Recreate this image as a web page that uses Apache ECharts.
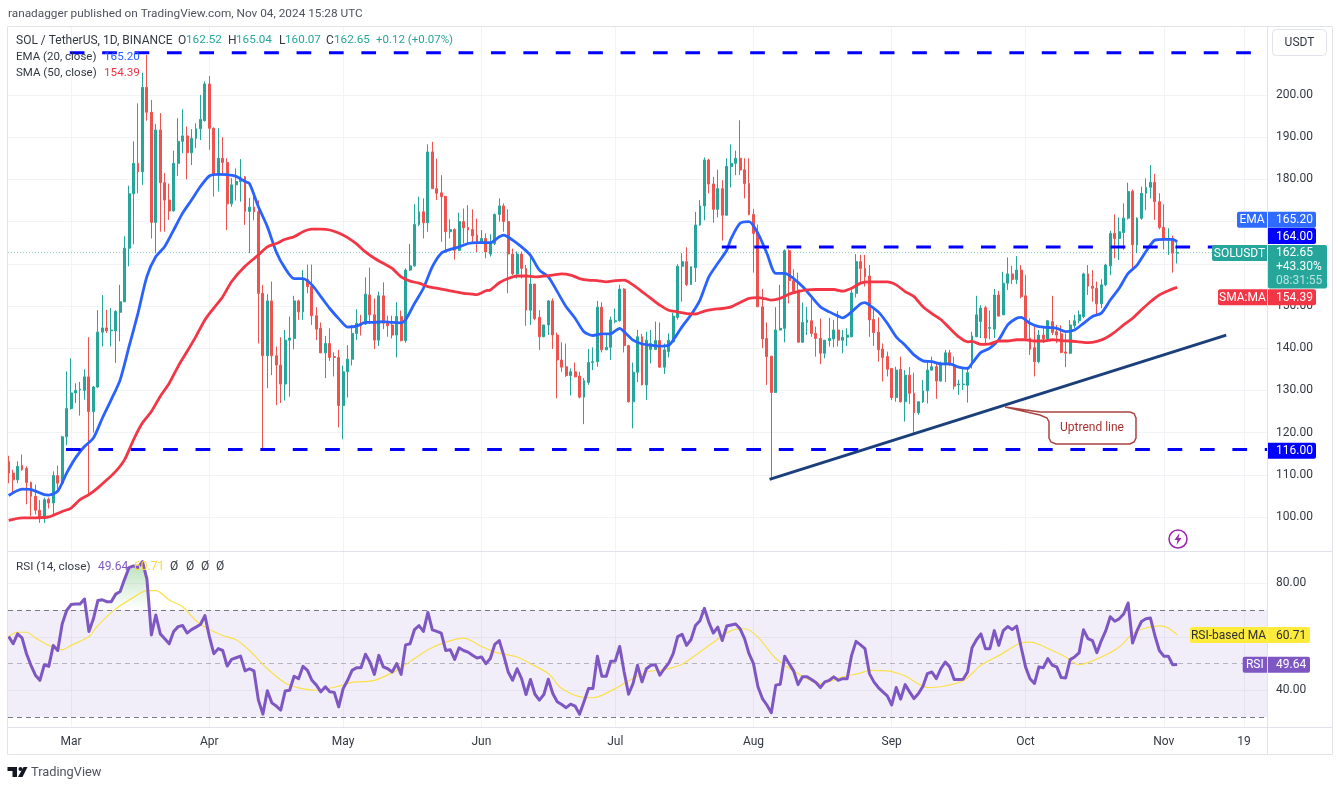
<!DOCTYPE html>
<html>
<head>
<meta charset="utf-8">
<script src="https://cdn.jsdelivr.net/npm/echarts@6/dist/echarts.min.js"></script>
<style>
  html, body { margin: 0; padding: 0; background: #fff; }
  #main { width: 1338px; height: 786px; }
</style>
</head>
<body>
<div id="main"></div>
<script>
// daily candles, first candle is 16 Feb 2024
var firstDay = Date.UTC(2024, 1, 16);
var DAY = 86400000;

var opens = [
  113.2,110.4,108.8,112.2,111.5,108.2,104.9,101.6,99.6,104.2,
  103.3,109.8,108.0,119.0,125.7,129.4,130.1,130.0,133.2,125.0,
  130.8,143.8,144.8,144.1,144.1,148.5,151.0,163.7,176.6,183.8,
  181.8,201.8,195.9,169.8,191.7,179.2,175.1,172.5,183.8,189.0,
  190.3,186.3,189.7,192.0,193.9,202.6,192.1,181.0,185.0,184.0,
  174.2,178.7,179.5,180.6,172.4,173.4,172.3,153.0,138.2,151.2,
  138.2,136.0,131.5,141.9,142.3,151.2,148.6,156.3,154.6,147.7,
  144.7,138.9,141.1,138.0,137.8,126.4,134.4,137.4,143.5,145.9,
  145.7,152.6,147.9,141.9,152.4,145.9,145.5,143.1,147.5,141.8,
  158.5,159.5,169.3,172.3,169.7,186.5,177.8,176.8,176.0,167.6,
  168.1,163.2,170.0,168.6,168.1,166.8,165.2,166.0,162.3,164.8,
  171.7,173.7,170.0,162.3,157.6,162.3,158.9,149.0,155.2,147.3,
  142.7,145.5,151.2,143.1,137.2,135.6,133.5,134.4,133.4,128.4,
  131.9,136.6,136.8,149.7,139.6,140.2,146.3,146.5,154.0,140.6,
  127.3,134.3,142.7,131.3,139.7,139.7,141.8,135.5,139.2,141.5,
  147.3,159.4,160.5,155.1,159.1,169.2,173.7,184.6,178.9,172.9,
  177.8,171.5,183.0,183.8,185.0,182.3,179.0,171.7,167.2,149.8,
  142.3,138.1,129.5,144.3,144.7,163.1,156.0,153.8,141.4,146.1,
  146.5,143.5,142.3,138.8,141.8,142.2,144.3,141.9,142.6,142.7,
  153.0,160.5,158.9,157.1,146.8,143.8,139.8,138.0,135.2,128.3,
  135.0,127.3,133.6,129.3,124.7,127.3,129.9,134.8,135.6,132.2,
  136.0,138.9,136.0,131.3,131.4,131.2,136.3,142.7,146.3,149.6,
  144.7,144.5,152.6,147.9,155.4,157.6,156.3,158.5,152.4,142.4,
  140.1,136.8,143.1,142.2,146.3,143.9,143.4,139.1,138.8,145.4,
  146.5,147.5,157.6,154.7,154.2,150.5,155.0,159.5,167.2,166.0,
  167.4,170.8,177.2,164.5,170.8,176.7,178.1,179.3,174.7,168.6,
  165.6,166.0,162.52
];
var closes = [
  110.4,108.8,112.0,111.2,108.2,104.9,101.6,99.6,104.1,103.3,
  109.8,108.0,119.0,125.7,129.4,130.0,130.3,133.2,125.0,130.8,
  143.8,144.8,144.1,144.3,148.7,151.0,163.7,176.6,183.8,181.8,
  201.8,195.9,169.8,191.7,179.2,175.1,172.5,183.8,189.0,190.3,
  186.3,189.7,192.0,194.2,202.6,192.1,181.0,185.0,184.0,174.2,
  178.7,179.5,180.3,172.4,173.4,172.3,153.0,138.2,151.2,138.2,
  136.0,131.5,141.9,142.4,151.2,148.6,156.3,154.6,147.7,144.5,
  138.9,141.1,137.8,137.8,126.4,134.4,137.4,143.5,145.9,145.3,
  152.8,147.9,141.9,152.4,145.9,145.3,143.1,147.5,141.8,158.5,
  159.5,169.3,172.3,169.7,186.5,177.8,176.7,175.9,167.6,168.1,
  163.2,170.0,168.5,168.0,166.6,165.2,166.0,162.8,165.0,171.7,
  173.7,170.0,162.3,157.6,162.3,158.9,149.0,155.2,147.0,142.7,
  145.5,151.2,143.1,137.2,135.5,133.5,134.4,133.2,128.4,132.3,
  136.6,136.8,149.7,139.6,140.2,146.7,146.5,154.0,140.6,127.3,
  134.3,142.7,131.3,141.9,141.1,141.8,135.5,139.6,141.9,147.6,
  159.4,160.5,155.1,159.3,169.2,173.7,184.6,178.9,172.9,177.8,
  171.5,183.1,183.8,185.0,182.2,179.0,171.7,167.2,149.8,142.2,
  138.0,129.5,144.3,144.7,163.1,156.0,153.5,141.4,146.1,146.7,
  143.5,142.3,138.8,141.9,142.3,144.3,141.9,142.6,143.1,153.1,
  160.5,158.9,156.9,146.7,143.7,139.6,137.8,135.0,128.3,134.8,
  127.3,133.6,129.3,124.7,127.3,129.9,134.8,135.6,132.2,136.4,
  138.9,136.0,131.0,131.5,131.5,134.2,142.9,147.9,149.5,142.4,
  144.9,152.6,147.6,155.4,157.6,156.3,158.5,152.2,142.4,139.7,
  136.8,143.1,142.2,146.5,143.7,143.1,139.0,138.8,145.5,146.5,
  147.9,157.6,154.7,154.2,150.5,155.0,159.7,167.2,166.0,167.6,
  170.8,177.1,164.5,170.8,176.7,178.1,179.3,174.7,168.6,165.6,
  166.0,162.52,162.65
];
var highs = [
  114.5,111.2,113.2,114.8,112.0,108.4,107.7,104.0,104.6,104.6,
  110.8,112.2,119.2,134.5,137.6,131.7,132.0,135.0,142.6,131.0,
  149.0,152.6,149.1,149.5,149.0,155.0,166.5,178.5,189.0,198.0,
  205.3,209.5,198.8,193.1,195.7,181.5,179.0,186.8,194.5,196.6,
  192.5,191.9,193.3,200.0,203.2,204.5,192.3,192.1,190.0,185.0,
  180.3,182.6,184.8,180.8,175.6,176.3,175.0,155.0,152.8,155.8,
  140.4,142.6,144.3,147.5,152.4,151.5,158.5,159.8,159.8,149.7,
  146.1,142.9,144.7,139.0,139.6,135.9,140.7,145.5,149.2,147.9,
  156.8,159.1,151.8,153.4,155.6,147.7,147.7,150.9,148.9,158.9,
  164.7,174.1,175.9,175.5,188.3,188.9,184.9,181.0,176.0,170.5,
  168.4,172.1,173.1,173.9,172.9,170.7,168.0,167.2,167.0,171.9,
  175.5,174.3,172.9,163.6,162.9,162.9,159.7,161.7,155.2,149.0,
  145.5,151.4,151.8,143.7,141.4,141.1,135.2,136.6,134.4,132.9,
  139.8,140.2,151.2,150.9,143.1,147.5,149.4,155.0,154.2,140.8,
  136.6,144.3,143.4,143.9,144.3,146.3,146.1,141.1,143.5,148.4,
  159.9,162.5,163.9,159.3,172.3,175.1,185.2,184.9,180.6,182.3,
  179.8,185.0,188.3,186.8,194.0,185.0,185.0,173.0,169.3,154.0,
  146.1,138.2,149.7,155.0,163.4,163.4,158.7,157.9,150.8,149.8,
  152.2,145.1,147.0,141.9,147.2,146.7,148.8,144.3,144.7,153.8,
  162.3,162.1,162.1,159.7,149.8,147.3,141.1,139.2,135.2,135.6,
  138.0,134.8,135.5,134.2,127.3,132.5,136.8,138.0,136.4,136.8,
  139.6,139.6,138.0,132.5,135.2,135.6,143.9,152.4,150.2,150.0,
  148.9,154.0,153.6,158.1,161.5,159.5,161.8,159.7,157.3,147.1,
  145.1,144.3,145.1,146.7,152.4,145.5,145.4,143.5,146.7,147.9,
  148.9,157.9,159.7,158.5,155.8,156.3,160.0,167.8,171.7,171.0,
  174.3,179.2,177.6,171.0,178.3,180.2,183.4,181.3,176.7,174.1,
  168.4,166.7,165.04
];
var lows = [
  108.0,105.7,108.0,111.0,103.0,100.2,100.6,98.6,98.6,102.0,
  100.6,106.5,107.5,117.0,125.4,127.0,124.0,127.8,105.3,120.0,
  130.6,140.4,143.6,140.4,136.5,141.6,150.9,159.4,164.6,176.7,
  178.7,193.9,166.0,162.5,167.6,167.6,170.4,172.4,180.8,186.2,
  180.0,183.4,187.4,189.3,193.7,187.0,175.9,177.1,181.0,168.0,
  173.5,175.0,174.7,169.2,162.5,170.3,141.1,116.0,130.5,133.6,
  126.5,127.0,127.6,128.5,139.7,146.7,146.7,153.0,145.5,141.9,
  138.8,132.9,137.0,133.3,121.2,118.4,128.3,135.9,141.9,143.0,
  145.5,145.7,139.8,140.5,144.5,142.7,142.3,137.8,141.6,141.3,
  158.3,159.3,168.9,166.0,167.6,177.7,175.1,165.2,162.6,166.0,
  161.0,163.0,164.8,164.7,164.7,162.8,164.7,161.3,161.7,164.4,
  170.0,167.6,153.0,157.3,156.5,156.5,145.3,145.5,146.6,139.6,
  142.6,143.1,139.8,128.1,134.4,133.2,128.8,133.1,128.1,122.0,
  131.3,134.8,135.6,139.0,139.6,137.2,145.9,146.3,139.0,127.1,
  121.0,132.0,131.2,127.7,136.4,139.6,135.4,133.9,137.8,141.4,
  146.8,151.0,154.7,155.0,155.7,169.0,170.3,176.7,169.7,171.0,
  165.5,171.5,178.1,181.0,181.0,175.5,171.5,157.9,149.8,140.0,
  131.3,109.0,129.5,144.2,141.4,150.6,153.0,141.4,141.3,143.1,
  142.7,138.0,136.2,137.6,140.4,140.2,140.4,138.8,140.5,142.6,
  152.0,155.4,154.6,142.7,140.5,136.8,132.1,133.3,127.7,127.3,
  127.1,122.6,126.8,119.8,124.2,127.0,126.9,134.7,128.0,132.1,
  132.0,135.8,130.2,128.9,130.1,127.1,135.2,142.6,142.4,141.2,
  142.1,142.4,147.5,147.9,153.8,155.2,155.2,151.8,142.0,138.4,
  133.3,136.4,141.2,141.6,143.1,141.2,138.8,135.5,138.6,144.7,
  145.9,147.1,152.6,151.0,147.9,149.5,154.7,157.3,161.3,160.9,
  163.3,170.5,158.9,162.5,170.4,172.7,175.5,170.4,168.2,163.4,
  162.1,157.9,160.07
];

// moving averages, read every couple of days (day number counted from firstDay)
var emaDays = [0,3,5,8,9,11,13,15,17,19,21,23,25,27,29,31,33,35,37,39,41,43,45,47,49,51,53,54,56,58,60,62,64,66,68,70,72,74,76,78,80,82,84,86,88,89,91,93,95,97,99,101,103,105,107,108,110,111,113,115,117,119,121,123,125,127,129,131,133,135,136,137,138,140,142,144,146,148,149,151,153,155,157,159,161,162,164,166,168,170,172,174,176,178,180,182,184,186,187,189,191,192,193,195,197,199,201,203,205,207,209,211,213,215,216,218,220,222,224,226,227,229,231,233,235,237,239,241,243,245,247,249,251,253,255,257,259,261,262];
var emaValues = [105.1,106.6,106.5,105.3,105.2,106.1,110.4,114,116.7,118.7,123.4,127.8,132.5,140.4,148.3,157,161.7,164.1,168,172,175.1,178.3,180.8,181.2,181.1,180.7,179.5,179,173.5,168.8,162.8,158.9,156.5,156.5,155,152.2,149.4,147,145,145.2,146.1,146.1,146.3,146.1,146,146.7,150.6,154.2,159.3,162.5,163.4,164,164.8,165,165,165,166.4,166.8,165.6,164,162,158.5,156.9,153.4,149.8,147.1,143.9,143,143.4,143.4,144.1,144.7,143.9,141.9,141,140.7,140.5,140.7,141.9,145.1,147.9,151.4,156.9,160.1,163.2,166,169.6,170,167.2,162.5,157.7,157.7,156.5,154.6,152.2,149.8,148.6,147.6,147.2,148.6,150.5,150.8,150.2,148.6,145.9,142.7,140.7,138.4,137,136.8,136.3,136.3,135.5,135.2,136.4,139,140,142,145.5,147.1,147.3,145.9,145.1,144.9,144.7,143.9,144.3,145.9,147.5,148.3,151.4,154.2,157.7,159.7,162.9,165.6,165.8,165.8,165.2];
var smaDays = [0,3,6,9,12,14,16,18,20,22,24,26,28,30,32,34,36,38,40,42,44,46,48,50,53,56,58,60,62,64,66,68,70,72,74,76,78,80,82,84,86,88,90,92,94,96,98,100,102,104,105,107,108,110,112,114,116,118,120,122,124,126,128,130,132,134,136,138,140,142,144,146,148,150,152,154,156,158,160,162,164,166,168,170,171,173,175,177,179,181,183,185,187,189,191,193,195,197,199,201,203,205,207,209,211,213,215,216,218,220,222,224,226,228,230,232,234,236,238,240,242,244,246,248,250,252,254,256,258,260,262];
var smaValues = [99.2,99.8,99.8,100,101.3,102.1,104.1,105.3,106.9,108.8,110.8,113.6,118.3,122.3,125,128.6,131.7,135.7,139.2,142.8,146.7,149.5,152.2,155.8,159.4,162.1,164,164.8,165.8,166.4,167.6,168.2,168.2,168,167.3,166.2,164.7,162.8,161.3,160.1,158.9,156.9,155.9,155.4,154.6,154.2,153.8,153.4,153,152.8,152.7,153.6,153.8,155.5,156.5,157.1,157.1,156.9,157.1,157.3,157.6,157.3,156.5,156.1,156,155.7,156,156.1,155,153.4,151.8,150.2,149,148.6,148.2,148.1,148.8,149.2,149.4,149.8,150.8,151.8,152,151.6,151.4,151.8,152.8,153.4,153.8,153.9,153.9,153.9,153.5,154.2,155.4,155.7,155.7,155.7,155,153.4,152.2,149.8,148.2,146.8,144.7,142.7,141.5,141.6,140.9,141,141.7,141.7,142,142,141.7,141.7,142,141.8,141.7,141.5,141.3,141.6,142.4,143.8,145.5,147.1,149.1,151,152.6,153.6,154.39];

// RSI, one value per candle
var rsiValues = [
  60.1,57.4,61.1,59.6,53.7,49.4,45.7,43.8,49.6,49,
  56.8,54.9,64.8,69.8,72,72.2,72.2,74.1,62,66.7,
  73.5,73.8,73.1,73.1,75.9,76.9,81.5,85.8,86.4,85.8,
  88,81.5,60.7,68.1,61.1,59.3,57.4,62,63.8,64.2,
  61.4,62.7,63.6,64.6,67.9,60.1,53.7,55.6,54.9,49.1,
  51.6,52.2,52.8,47.3,48.1,47.3,36.4,31.2,39.9,35.4,
  34.2,32.7,39.8,40.1,45.3,44.4,49,47.5,43.8,42,
  39.5,41.4,39.5,39.3,33.9,40.7,43.8,47.5,48.5,48.5,
  53.5,50.6,46,53.1,48.8,48.1,46.9,50,46,57,
  57.4,62.7,64.2,62,69.1,62.6,62,61.4,54.9,55.2,
  51.6,55.9,54.9,54.3,53.1,52.1,52.5,50,51.9,57.2,
  58.6,53.1,46.9,43.8,48.1,44.4,38.5,44.1,38.6,36.4,
  38.5,44.2,38.9,35.8,34.8,33.6,34.9,34.2,31.2,35.8,
  40.7,40.7,52.8,45.3,45.3,50.9,51,56.4,46.9,38.6,
  42.6,49.4,43.2,48.1,49.4,49.6,45.7,48.1,50.2,53.7,
  60.1,60.9,56.8,59,64.2,66,70.6,65.4,61.4,63.6,
  58.6,64,64.4,64.8,63,59.3,53.7,50,41.4,37,
  34.6,31.7,42,42.3,52.8,50,47.3,42.2,45.1,45.1,
  44.1,43,41.1,43.2,43.8,45.1,43.8,44.4,44.4,53.1,
  58.3,57,55.6,46.3,43.2,41.1,39.5,38,34.6,41.1,
  36.8,42.2,39.5,37,38.9,41.6,46.3,46.9,44.4,48.1,
  50.6,48.8,44.1,44.1,44.2,46.9,55.9,58.9,61.1,55.6,
  55.6,62.3,56.8,62.3,63.8,62.7,64,56.2,48.8,44.4,
  42.6,48.8,48.5,51.9,49.4,48.8,44.8,44.7,51.5,52.5,
  54,62.6,59.3,58.6,54.1,58.6,62.3,67.5,65.8,66.7,
  68.5,72.6,57.7,62.3,65.7,66.7,67,60.5,54.9,52.8,
  52.8,49.6,49.64
];
var rsiMaDays = [0,2,4,6,9,12,14,18,20,24,28,31,33,36,39,42,45,48,51,54,58,62,65,69,74,77,82,87,91,94,98,102,106,109,114,117,121,124,129,131,136,139,143,147,151,157,162,165,168,172,177,182,187,191,193,197,201,206,209,214,218,222,227,229,234,237,240,245,249,252,255,258,260,262];
var rsiMaValues = [60.1,61.7,61.7,59.6,56.8,55.2,56.8,60.1,64.2,70.4,74.7,77.2,77.2,73.7,71.2,66,62.7,60.5,58.9,54.9,48.1,42.8,41,40.1,41.6,43,43.8,47.5,51.9,55.2,58,59.5,56.4,54.3,52.5,50,46.3,40.7,37.4,37.3,40.7,43.6,46.9,47.8,49.8,56.8,62.3,63,59.9,51.9,46.3,42.6,45.1,46.5,47.5,47.3,45.4,41.1,41.4,43.6,49.4,53,57.7,58,54.9,52.5,49.6,52.5,56.2,61.1,63.3,64.1,63.3,60.71];

// drawn levels: value, first day of the line
var resistanceTop = 210;
var resistanceTopFrom = 13.7;
var resistanceMid = 164;
var resistanceMidFrom = 159.9;
var supportLow = 116;
var supportLowFrom = 12.85;
var trendDays = [170.6, 273];
var trendValues = [108.9, 143.1];

var monthNames = { '2024-03-01': 'Mar', '2024-04-01': 'Apr', '2024-05-01': 'May', '2024-06-01': 'Jun', '2024-07-01': 'Jul', '2024-08-01': 'Aug', '2024-09-01': 'Sep', '2024-10-01': 'Oct', '2024-11-01': 'Nov', '2024-11-19': '19' };
var priceTicks = [100,110,120,130,140,150,160,170,180,190,200];
var rsiTicks = [80, 40];
var rsiGrid = [80, 60, 40];

var dayToMs = function (d) { return firstDay + d * DAY; };
var pairs = function (days, vals) { return days.map(function (d, i) { return [dayToMs(d), vals[i]]; }); };

var xMin = dayToMs(-0.148);
var xMax = dayToMs(282.14);
var timeTicks = Object.keys(monthNames).map(function (k) { return Date.parse(k + 'T00:00:00Z'); });

var candleData = opens.map(function (o, i) { return [dayToMs(i), o, closes[i], lows[i], highs[i]]; });
var lastClose = closes[closes.length - 1];

const FONT = 'Roboto, "Liberation Sans", sans-serif';
const TEXT = '#333842';
const UP = '#26a69a';
const DOWN = '#ef5350';
const EMA_COL = '#2962ff';
const SMA_COL = '#f23645';
const RSI_COL = '#7e57c2';
const GRID_COL = '#f2f3f7';
const LEVEL = '#0000ff';

// plain value axis holding milliseconds, the time axis breaks on customValues
function timeAxis(gridIndex, showLabel) {
  return {
    type: 'value', gridIndex: gridIndex, min: xMin, max: xMax, scale: true,
    axisLine: { show: false },
    axisTick: { show: false, customValues: timeTicks },
    splitLine: { show: true, lineStyle: { color: GRID_COL, width: 1 } },
    axisLabel: {
      show: showLabel, customValues: timeTicks, margin: 9, color: TEXT,
      fontFamily: FONT, fontSize: 12, hideOverlap: false,
      formatter: function (v) { return monthNames[new Date(v).toISOString().slice(0, 10)] || ''; }
    }
  };
}
function valueAxis(gridIndex, min, max, labels, lines) {
  return {
    type: 'value', gridIndex: gridIndex, position: 'right', min: min, max: max, scale: true,
    axisLine: { show: false },
    axisTick: { show: false, customValues: lines },
    splitLine: { show: true, lineStyle: { color: GRID_COL, width: 1 } },
    axisLabel: {
      customValues: labels, inside: false, margin: 9, color: TEXT, fontFamily: FONT, fontSize: 12,
      padding: [3, 0, 0, 0],
      formatter: function (v) { return v.toFixed(2); }
    }
  };
}
function levelLine(from, value) {
  return {
    type: 'line', xAxisIndex: 0, yAxisIndex: 0, showSymbol: false, silent: true, z: 6,
    data: [[dayToMs(from), value], [xMax, value]],
    lineStyle: { color: LEVEL, width: 3, type: [14.7, 17.7] }
  };
}

// texts, tags and frame around the plot
var chrome = [];
function txt(x, y, s, color, opts) {
  opts = opts || {};
  chrome.push({
    type: 'text', x: x, y: y + 1, z: opts.z || 50, silent: true,
    style: {
      text: s, fill: color, font: (opts.weight || 'normal') + ' ' + (opts.size || 12) + 'px ' + FONT,
      verticalAlign: 'middle', align: opts.align || 'left'
    }
  });
}
function box(x, y, w, h, fill, r) {
  chrome.push({ type: 'rect', z: 40, silent: true, shape: { x: x, y: y, width: w, height: h, r: r || 0 }, style: { fill: fill } });
}
function hline(x1, y1, x2, y2) {
  chrome.push({ type: 'line', z: 30, silent: true, shape: { x1: x1, y1: y1, x2: x2, y2: y2 }, style: { stroke: '#e0e3eb', lineWidth: 1 } });
}
function tag(y, h, leftX, rightX, color, leftText, rightText, textColor) {
  if (leftText) {
    box(leftX, y, 1267 - leftX, h, color, [2, 0, 0, 2]);
    txt((leftX + 1267) / 2, y + h / 2 - 0.5, leftText, textColor, { align: 'center' });
  }
  box(1268, y, rightX - 1268, h, color, [0, 2, 2, 0]);
  txt(1276, y + h / 2 - 0.5, rightText, textColor);
}

// frame
hline(7.5, 26.5, 1332.5, 26.5);
hline(7.5, 26.5, 7.5, 754.5);
hline(1332.5, 26.5, 1332.5, 754.5);
hline(7.5, 754.5, 1332.5, 754.5);
hline(7.5, 551.5, 1332.5, 551.5);
hline(7.5, 727.5, 1332.5, 727.5);
hline(1267.5, 26.5, 1267.5, 754.5);

txt(8, 13.5, 'ranadagger published on TradingView.com, Nov 04, 2024 15:28 UTC', '#50535e', { size: 11.8 });

txt(16, 39.5, 'SOL / TetherUS, 1D, BINANCE', TEXT);
txt(178, 39.5, 'O', TEXT); txt(186, 39.5, '162.52', UP, { size: 11.7 });
txt(228, 39.5, 'H', TEXT); txt(236, 39.5, '165.04', UP, { size: 11.7 });
txt(279, 39.5, 'L', TEXT); txt(285, 39.5, '160.07', UP, { size: 11.7 });
txt(326, 39.5, 'C', TEXT); txt(334, 39.5, '162.65', UP, { size: 11.7 });
txt(376, 39.5, '+0.12 (+0.07%)', UP, { size: 11.5 });
txt(16, 56.5, 'EMA (20, close)', TEXT, { size: 11.5 }); txt(104, 56.5, '165.20', EMA_COL, { size: 11.7 });
txt(16, 72.5, 'SMA (50, close)', TEXT, { size: 11.5 }); txt(104, 72.5, '154.39', SMA_COL, { size: 11.7 });

txt(16, 566, 'RSI (14, close)', TEXT, { size: 11.7 });
txt(98, 566, '49.64', RSI_COL);
txt(134, 566, '60.71', '#fdd835');
txt(170, 566, 'Ø', TEXT); txt(186, 566, 'Ø', TEXT); txt(201, 566, 'Ø', TEXT); txt(216, 566, 'Ø', TEXT);

// USDT button
chrome.push({ type: 'rect', z: 30, silent: true, shape: { x: 1272.5, y: 29.5, width: 54, height: 26, r: 4 }, style: { fill: '#fff', stroke: '#e0e3eb', lineWidth: 1 } });
txt(1299.5, 42, 'USDT', TEXT, { align: 'center' });

// price tags on the axis
tag(211.7, 16, 1237, 1316, '#2f6bff', 'EMA', '165.20', '#fff');
tag(228, 16, 1268, 1316, LEVEL, '', '164.00', '#fff');
box(1212, 245, 55, 16, UP, [2, 0, 0, 2]);
txt(1239.5, 252.5, 'SOLUSDT', '#fff', { align: 'center' });
box(1268, 245, 59, 43.5, UP, [0, 2, 2, 2]);
txt(1276, 252, '162.65', '#fff');
txt(1276, 266, '+43.30%', '#fff');
txt(1276, 280, '08:31:55', '#b9e3df');
tag(289.3, 16, 1218, 1316, SMA_COL, 'SMA:MA', '154.39', '#fff');
tag(442.7, 16, 1268, 1316, LEVEL, '', '116.00', '#fff');
tag(627, 16, 1190, 1310, '#ffeb3b', 'RSI-based MA', '60.71', '#2a2e39');
tag(656.7, 16, 1242.7, 1310, RSI_COL, 'RSI', '49.64', '#fff');

// callout for the trend line
chrome.push({
  type: 'polygon', z: 20, silent: true,
  shape: { points: [[1005, 407], [1040, 412], [1130, 412], [1134, 413.5], [1136, 418], [1136, 438], [1134, 442], [1130, 444], [1056, 444], [1051, 442], [1049, 438], [1049, 422], [1047, 418], [1040, 415]] },
  style: { fill: '#fff', stroke: '#a94442', lineWidth: 1.5 }
});
txt(1092, 427, 'Uptrend line', '#a83232', { align: 'center', z: 21 });

// bolt mark
chrome.push({ type: 'circle', z: 20, silent: true, shape: { cx: 1178, cy: 539, r: 9 }, style: { fill: '#fff', stroke: '#9c27b0', lineWidth: 1.5 } });
chrome.push({ type: 'polygon', z: 21, silent: true, shape: { points: [[1179.5, 533], [1174.5, 540], [1177.5, 540], [1176.5, 545], [1181.5, 538], [1178.5, 538]] }, style: { fill: '#9c27b0' } });

// TradingView logo
chrome.push({ type: 'polygon', z: 20, silent: true, shape: { points: [[7.5, 767], [17, 767], [17, 777], [12.5, 777], [12.5, 771], [7.5, 771]] }, style: { fill: '#131722' } });
chrome.push({ type: 'circle', z: 20, silent: true, shape: { cx: 20.5, cy: 769, r: 2 }, style: { fill: '#131722' } });
chrome.push({ type: 'polygon', z: 20, silent: true, shape: { points: [[23.5, 767], [27.5, 767], [22.5, 777], [18, 777]] }, style: { fill: '#131722' } });
txt(31, 771.5, 'TradingView', '#50535e', { size: 12.8 });

var option = {
  animation: false,
  backgroundColor: '#fff',
  textStyle: { fontFamily: FONT },
  grid: [
    { left: 8, width: 1259, top: 27, height: 524 },
    { left: 8, width: 1259, top: 552, height: 175 }
  ],
  xAxis: [timeAxis(0, false), timeAxis(1, true)],
  yAxis: [
    valueAxis(0, 91.94, 216.1, priceTicks, priceTicks),
    valueAxis(1, 26.4, 91.6, rsiTicks, rsiGrid)
  ],
  graphic: { elements: chrome },
  series: [
    {
      type: 'line', xAxisIndex: 0, yAxisIndex: 0, showSymbol: false, silent: true, z: 1,
      data: [[xMin, lastClose], [xMax, lastClose]],
      lineStyle: { color: '#8fd0ca', width: 1, type: [1, 2] }
    },
    {
      name: 'SOLUSDT', type: 'candlestick', xAxisIndex: 0, yAxisIndex: 0, z: 2,
      barWidth: 2.4,
      data: candleData,
      itemStyle: { color: UP, color0: DOWN, borderColor: UP, borderColor0: DOWN, borderWidth: 1 }
    },
    {
      name: 'EMA', type: 'line', xAxisIndex: 0, yAxisIndex: 0, showSymbol: false, silent: true, z: 4,
      smooth: 0.25, data: pairs(emaDays, emaValues), lineStyle: { color: EMA_COL, width: 2.8 }
    },
    {
      name: 'SMA', type: 'line', xAxisIndex: 0, yAxisIndex: 0, showSymbol: false, silent: true, z: 4,
      smooth: 0.25, data: pairs(smaDays, smaValues), lineStyle: { color: SMA_COL, width: 2.8 }
    },
    levelLine(resistanceTopFrom, resistanceTop),
    levelLine(resistanceMidFrom, resistanceMid),
    levelLine(supportLowFrom, supportLow),
    {
      name: 'Uptrend', type: 'line', xAxisIndex: 0, yAxisIndex: 0, showSymbol: false, silent: true, z: 7,
      data: pairs(trendDays, trendValues), lineStyle: { color: '#1b3f7a', width: 3 }
    },
    {
      // overbought shading above the 70 level
      type: 'line', xAxisIndex: 1, yAxisIndex: 1, showSymbol: false, silent: true, z: 2,
      data: rsiValues.map(function (v, i) { return [dayToMs(i), Math.max(v, 70)]; }),
      lineStyle: { width: 0 },
      areaStyle: {
        origin: 70,
        color: new echarts.graphic.LinearGradient(0, 0, 0, 1, [
          { offset: 0, color: 'rgba(76,175,80,0.55)' },
          { offset: 1, color: 'rgba(76,175,80,0)' }
        ])
      }
    },
    {
      name: 'RSI', type: 'line', xAxisIndex: 1, yAxisIndex: 1, showSymbol: false, silent: true, z: 4,
      data: rsiValues.map(function (v, i) { return [dayToMs(i), v]; }),
      lineStyle: { color: RSI_COL, width: 3, join: 'round' },
      markArea: {
        silent: true, z: 1,
        itemStyle: { color: 'rgba(126,87,194,0.1)' },
        data: [[{ yAxis: 70 }, { yAxis: 30 }]]
      },
      markLine: {
        silent: true, symbol: 'none', label: { show: false }, z: 2,
        lineStyle: { color: '#787b86', width: 1, type: [5, 4] },
        data: [
          { yAxis: 70 },
          { yAxis: 50, lineStyle: { color: 'rgba(120,123,134,0.5)', type: [5, 4], width: 1 } },
          { yAxis: 30 }
        ]
      }
    },
    {
      name: 'RSI-based MA', type: 'line', xAxisIndex: 1, yAxisIndex: 1, showSymbol: false, silent: true, z: 3,
      smooth: 0.3, data: pairs(rsiMaDays, rsiMaValues), lineStyle: { color: '#fbe04a', width: 1.2 }
    }
  ]
};

var chart = echarts.init(document.getElementById('main'), null, { renderer: 'canvas' });
chart.setOption(option);
</script>
</body>
</html>
